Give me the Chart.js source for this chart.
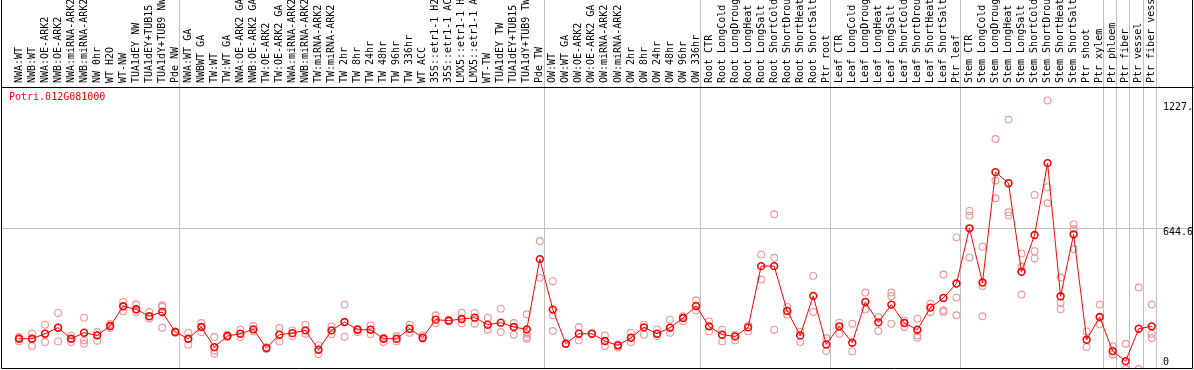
<!DOCTYPE html>
<html><head><meta charset="utf-8">
<script src="https://cdn.jsdelivr.net/npm/chart.js@4"></script>
<style>html,body{margin:0;padding:0;background:#fff;overflow:hidden}canvas{display:block}</style>
</head><body>
<canvas id="c" width="1194" height="370"></canvas>
<script>
const geneName = "Potri.012G081000";
const categories = [
 "NWA:WT","NWB:WT","NWA:OE-ARK2","NWB:OE-ARK2","NWA:miRNA-ARK2","NWB:miRNA-ARK2","NW 0hr","WT H2O","WT-NW","TUA1dEY NW","TUA1dEY+TUB15 NW","TUA1dY+TUB9 NW","Pde NW",
 "NWA:WT GA","NWBWT GA","TW:WT","TW:WT GA","NWA:OE-ARK2 GA","NWB:OE-ARK2 GA","TW:OE-ARK2","TW:OE-ARK2 GA","NWA:miRNA-ARK2 GA","NWB:miRNA-ARK2 GA","TW:miRNA-ARK2","TW:miRNA-ARK2 GA","TW 2hr","TW 8hr","TW 24hr","TW 48hr","TW 96hr","TW 336hr","WT ACC","35S::etr1-1 H2O","35S::etr1-1 ACC","LMX5::etr1-1 H2O","LMX5::etr1-1 ACC","WT-TW","TUA1dEY TW","TUA1dEY+TUB15 TW","TUA1dY+TUB9 TW","Pde TW",
 "OW:WT","OW:WT GA","OW:OE-ARK2","OW:OE-ARK2 GA","OW:miRNA-ARK2","OW:miRNA-ARK2 GA","OW 2hr","OW 8hr","OW 24hr","OW 48hr","OW 96hr","OW 336hr",
 "Root CTR","Root LongCold","Root LongDrought","Root LongHeat","Root LongSalt","Root ShortCold","Root ShortDrought","Root ShortHeat","Root ShortSalt","Ptr root",
 "Leaf CTR","Leaf LongCold","Leaf LongDrought","Leaf LongHeat","Leaf LongSalt","Leaf ShortCold","Leaf ShortDrought","Leaf ShortHeat","Leaf ShortSalt","Ptr leaf",
 "Stem CTR","Stem LongCold","Stem LongDrought","Stem LongHeat","Stem LongSalt","Stem ShortCold","Stem ShortDrought","Stem ShortHeat","Stem ShortSalt","Ptr shoot","Ptr xylem",
 "Ptr phloem","Ptr fiber","Ptr vessel","Ptr fiber vessel"
];
const means = [
 138.4,138.4,161.3,188.9,138.4,165.9,153.7,196.5,286.7,273.0,240.9,260.7,169.0,
 138.4,191.9,100.2,150.6,161.3,181.2,95.6,156.8,164.0,176.6,87.9,176.6,214.9,179.7,179.7,138.4,138.4,184.3,143.0,225.6,221.0,228.6,234.7,202.6,211.8,191.9,181.2,502.4,
 271.5,115.5,161.3,161.3,127.7,107.8,143.0,190.4,161.3,188.9,233.2,288.3,
 195.0,156.8,149.1,190.4,470.3,470.3,265.3,153.7,334.2,112.4,
 195.0,120.1,306.6,213.3,294.4,210.3,179.7,280.6,325.0,390.7,
 643.1,395.3,900.0,849.5,444.3,612.5,941.3,332.6,615.5,133.8,237.8,
 81.8,35.9,184.3,195.0
];
const replicates = [
 [146.0,138.4,126.2],[161.3,138.4,104.8],[202.6,161.3,123.1],[256.2,188.9,126.2],[153.7,138.4,123.1],[234.7,130.8,115.5],[169.0,153.7,129.2],[205.7,187.3],[306.6,263.8],[295.9,260.7],[260.7,230.2],[291.3,283.7,188.9],[172.0,166.0],
 [165.9,110.9],[210.3,169.0],[146.0,84.9,69.6],[156.8,146.0],[179.7,146.0],[196.5,172.0],[100.2,92.0],[187.3,126.2],[176.6,150.6],[202.6,161.3],[107.8,68.1],[195.0,159.8],[294.4,147.6],[184.3,169.0],[199.6,159.8],[143.0,123.1],[150.6,126.2],[202.6,165.9],[153.7,138.4],[245.4,208.7],[225.6,217.9],[257.7,208.7],[256.2,207.2],[234.7,179.7],[276.0,169.0],[210.3,156.8],[250.0,161.3,146.0,138.4],[585.0,416.7],
 [401.4,245.4,173.6],[115.5],[191.9,130.8],[161.3],[153.7,104.8],[112.4,98.6],[165.9,123.1],[202.6,156.8],[181.2,150.6],[225.6,165.9],[240.9,217.9],[314.3,268.4],
 [217.9,172.0],[179.7,126.2],[156.8,130.8],[199.6,172.0],[523.8,409.1],[707.3,508.5,179.7],[283.7,248.5],[169.0,123.1],[425.9,260.7],[141.5,81.8],
 [211.8,161.3],[207.2,80.3],[349.4,271.5],[237.8,173.6],[349.4,334.2,207.2],[222.5,191.9],[230.2,153.7,143.0],[299.0,260.7],[432.0,268.4,260.7],[601.8,326.5,245.4],
 [722.6,701.2,510.0],[559.0,380.0,240.9],[1051.4,861.8,780.7],[1140.1,716.5,701.2],[528.4,467.2,340.3],[796.0,539.1,505.4],[1227.8,831.2,757.8],[418.3,303.6,273.0],[661.4,640.0,548.3],[172.0,100.2],[294.4,204.1],
 [104.8,66.5],[115.5,0],[372.4,0],[294.4,161.3,141.5]
];
const groupEnds = [12,40,52,62,72,83,84,85,86,87];
const yMax = 1289.2;
const yMid = 644.6;
const yLabelValues = [1227.8, 644.6, 0];
const yLabelTexts = ["1227.8", "644.6", "0"];

const X_MIN = -1.3825, X_MAX = 90.17, BOUND_SHIFT = 0.33;
const FONT = '10px "DejaVu Sans Mono", monospace';

function noPad(s) { s.paddingLeft = 0; s.paddingRight = 0; s.paddingTop = 0; s.paddingBottom = 0; }

const decor = {
  id: 'decor',
  afterDraw(chart) {
    const ctx = chart.ctx, a = chart.chartArea, ys = chart.scales.y;
    ctx.save();
    ctx.strokeStyle = '#000'; ctx.lineWidth = 1;
    ctx.beginPath();
    ctx.moveTo(a.left + 0.5, 0); ctx.lineTo(a.left + 0.5, a.bottom - 0.5);
    ctx.lineTo(a.right - 0.5, a.bottom - 0.5); ctx.lineTo(a.right - 0.5, 0);
    ctx.stroke();
    ctx.font = FONT; ctx.textAlign = 'left'; ctx.textBaseline = 'middle';
    ctx.fillStyle = '#ff0000';
    ctx.fillText(geneName, 9, a.top + 10);
    ctx.beginPath(); ctx.rect(0, 0, a.right - 1, chart.height); ctx.clip();
    ctx.fillStyle = '#000';
    const offs = [7, 4, -7];
    yLabelValues.forEach((v, i) => ctx.fillText(yLabelTexts[i], 1163, ys.getPixelForValue(v) + offs[i]));
    ctx.restore();
  }
};

const repPoints = replicates.flatMap((arr, i) => arr.map(v => ({x: i, y: v})));
const meanPoints = means.map((v, i) => ({x: i, y: v}));

new Chart(document.getElementById('c'), {
  type: 'line',
  data: {
    datasets: [
      { data: meanPoints, xAxisID: 'x', yAxisID: 'y', borderColor: '#ff0000', borderWidth: 1,
        pointRadius: 3.4, pointBorderColor: '#ff0000', pointBorderWidth: 1.6,
        pointBackgroundColor: 'rgba(0,0,0,0)', tension: 0, order: 0 },
      { data: repPoints, xAxisID: 'x', yAxisID: 'y', showLine: false,
        pointRadius: 3.4, pointBorderColor: '#ee9494', pointBorderWidth: 1.1,
        pointBackgroundColor: 'rgba(0,0,0,0)', order: 1 }
    ]
  },
  options: {
    responsive: false, animation: false, devicePixelRatio: 1,
    layout: { autoPadding: false, padding: { left: 1, right: 1, top: 0, bottom: 1 } },
    plugins: { legend: { display: false }, tooltip: { enabled: false }, title: { display: false } },
    scales: {
      x: {
        type: 'linear', position: 'top', weight: 0, min: X_MIN, max: X_MAX,
        afterBuildTicks: s => { s.ticks = groupEnds.map(e => ({ value: e + BOUND_SHIFT })); },
        afterFit: s => { s.height = 0; noPad(s); },
        ticks: { display: false },
        grid: { color: '#c0c0c0', lineWidth: 1, drawTicks: true, tickLength: 87, drawOnChartArea: true },
        border: { display: true, color: '#000', width: 1 }
      },
      xl: {
        type: 'linear', position: 'top', weight: 1, min: X_MIN, max: X_MAX,
        afterBuildTicks: s => { s.ticks = categories.map((c, i) => ({ value: i })); },
        afterFit: s => { s.height = 87; noPad(s); },
        ticks: { autoSkip: false, minRotation: 90, maxRotation: 90, padding: 4, labelOffset: 12, color: '#000',
          font: { family: '"DejaVu Sans Mono", monospace', size: 10 },
          callback: (v) => categories[v] },
        grid: { display: false, drawTicks: false },
        border: { display: false }
      },
      y: {
        type: 'linear', position: 'right', min: 0, max: yMax,
        afterBuildTicks: s => { s.ticks = [{ value: yMid }]; },
        afterFit: s => { s.width = 0; noPad(s); },
        ticks: { display: false },
        grid: { color: '#c0c0c0', lineWidth: 1, drawTicks: false },
        border: { display: false }
      }
    }
  },
  plugins: [decor]
});
</script>
</body></html>
